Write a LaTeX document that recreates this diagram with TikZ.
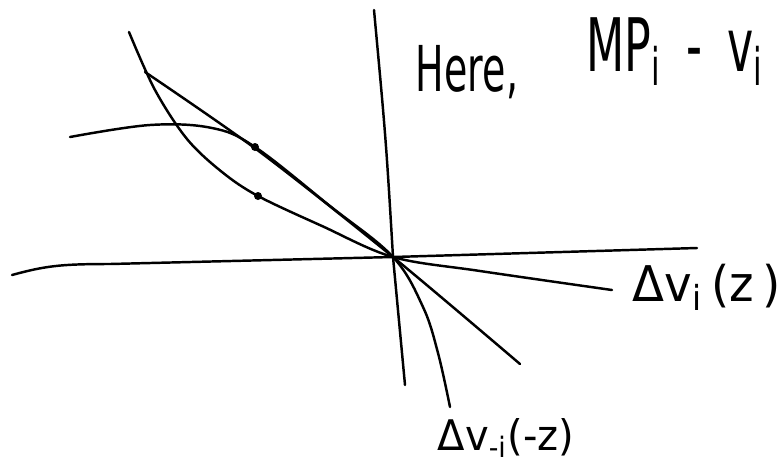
\documentclass[tikz,border=0pt]{standalone}
\usepackage{fontspec}
\usepackage{tikz}
\usetikzlibrary{positioning,calc}
\newfontfamily\handfont[FakeStretch=0.6]{DejaVu Sans}
\newfontfamily\handwide[FakeStretch=0.95]{DejaVu Sans}
\definecolor{ink}{HTML}{000000}
\tikzset{
  axis/.style={draw=ink,line width=0.7pt,line cap=round},
  sketch/.style={draw=ink,line width=0.7pt,line cap=round,line join=round},
  dot/.style={circle,fill=ink,inner sep=0pt,minimum size=0.8mm},
  hand/.style={inner sep=0pt,text=ink,font=\handfont\fontsize{18}{20}\selectfont},
  handlabel/.style={inner sep=0pt,text=ink,font=\handwide\fontsize{14}{16}\selectfont}
}
\begin{document}
\begin{tikzpicture}[x=0.1mm,y=-0.1mm]
  \useasboundingbox (0,0) rectangle (782,461);
  % axes
  \coordinate (o) at (393,257);
  \draw[axis] (374,10) .. controls (386,140) .. (o) -- (405,385);
  \draw[axis] (12,275) .. controls (45,266) and (60,264) .. (110,264) -- (o) -- (697,248);
  % the two curves and the chord
  \draw[sketch] plot[smooth,tension=0.55] coordinates {(129,32) (155,90) (187,139) (222,172) (258,196) (322,226) (o) (480,271) (612,290)};
  \draw[sketch] plot[smooth,tension=0.6] coordinates {(70,137) (150,125) (212,128) (255,147) (330,206) (o) (423,307) (438,353) (450,407)};
  \draw[sketch] plot[smooth,tension=0.5] coordinates {(145,72) (260,152) (o) (520,364)};
  \node[dot] (p1) at (255,147) {};
  \node[dot] (p2) at (258,196) {};
  % labels
  \node[hand] (here) at (467,72) {Here,};
  \node[hand,anchor=west,font=\handfont\fontsize{21}{23}\selectfont] (mp) at (586,52) {MP\textsubscript{i}\,\,-\,\,v\textsubscript{i}};
  \node[handlabel,anchor=west] (dvz) at (632,287) {Δv\textsubscript{i}\,(z\,)};
  \node[handlabel,font=\handwide\fontsize{12}{14}\selectfont] (dvmz) at (506,438) {Δv\textsubscript{-i}(-z)};
\end{tikzpicture}
\end{document}
